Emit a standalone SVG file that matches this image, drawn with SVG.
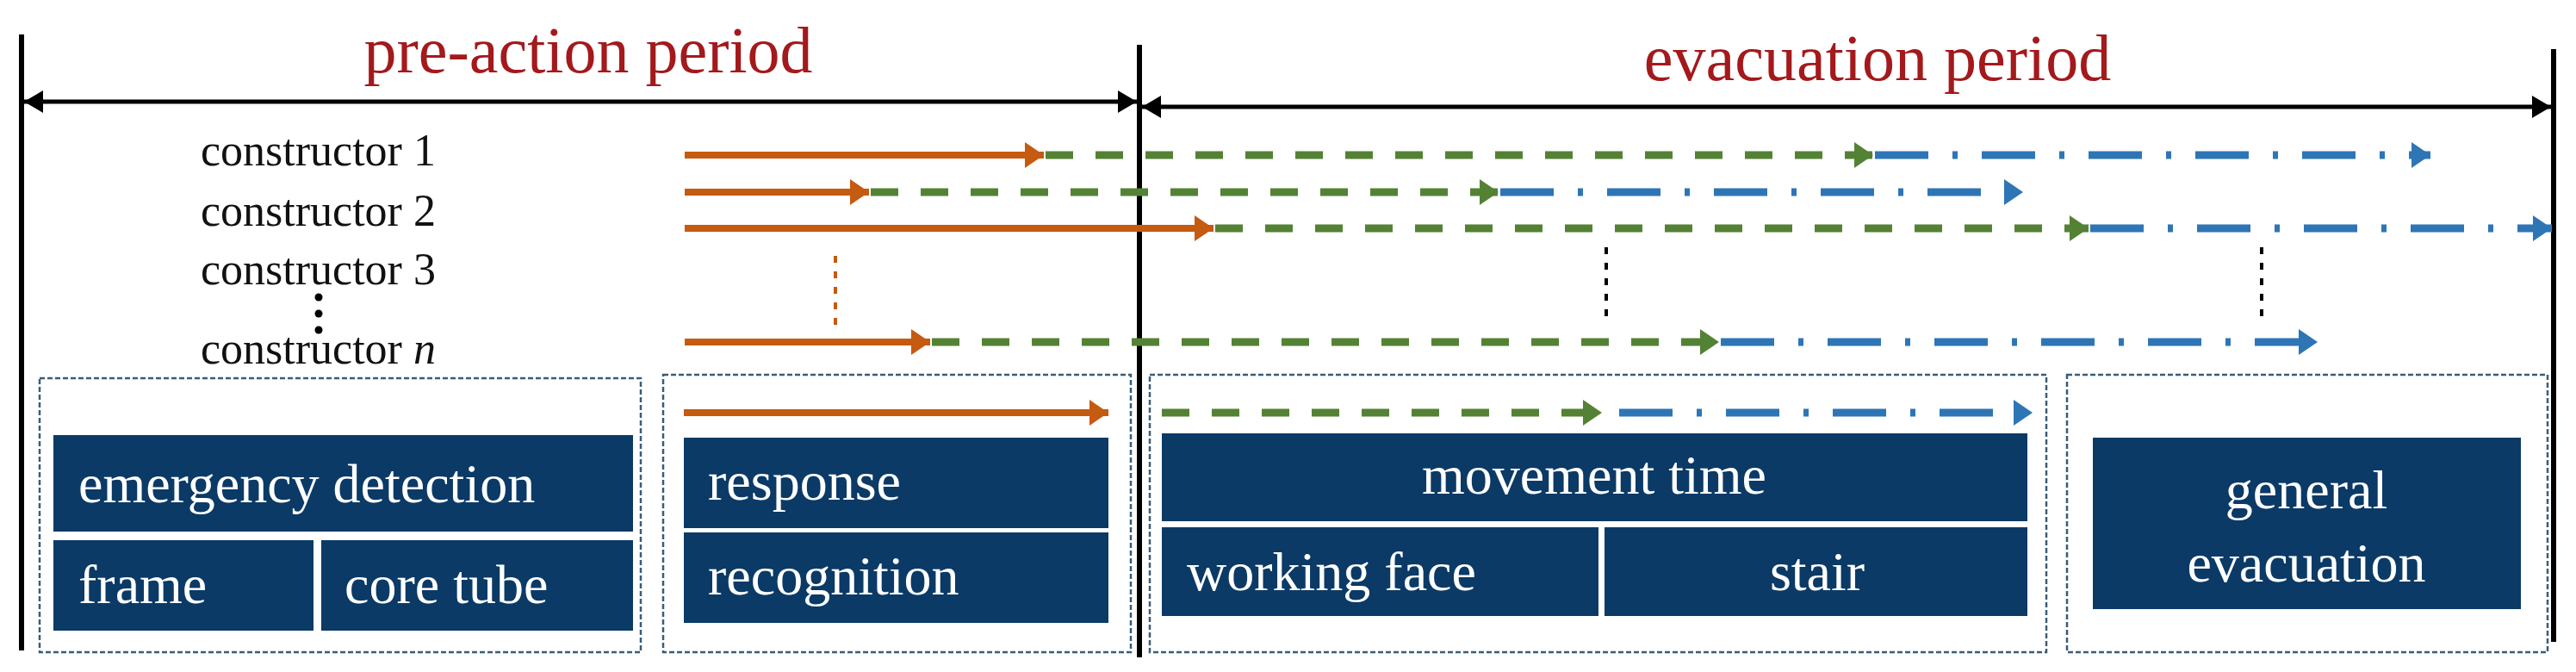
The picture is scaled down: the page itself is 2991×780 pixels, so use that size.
<svg xmlns="http://www.w3.org/2000/svg" width="2991" height="780" viewBox="0 0 2991 780">
<style>
.ttl{font-family:"Liberation Serif",serif;font-size:76px;fill:#A3191C}
.lbl{font-family:"Liberation Serif",serif;font-size:52px;fill:#111}
.wt{font-family:"Liberation Serif",serif;font-size:64px;fill:#fff}
.bx{fill:#0B3A66}
.grp{fill:none;stroke:#3A5D78;stroke-width:2.5;stroke-dasharray:6 3}
.or{stroke:#C55A11;stroke-width:8;fill:none}
.gr{stroke:#548235;stroke-width:9;fill:none;stroke-dasharray:32 26}
.bl{stroke:#2E75B6;stroke-width:9;fill:none;stroke-dasharray:62 28 6 28}
.vk{stroke:#000;stroke-width:6}
.dot{stroke-width:4;stroke-dasharray:8 10;fill:none}
</style>
<defs>
<marker id="ao" markerUnits="userSpaceOnUse" markerWidth="24" markerHeight="30" refX="22" refY="15" orient="auto"><path d="M0,0 L22,15 L0,30 Z" fill="#C55A11"/></marker>
<marker id="ag" markerUnits="userSpaceOnUse" markerWidth="24" markerHeight="30" refX="22" refY="15" orient="auto"><path d="M0,0 L22,15 L0,30 Z" fill="#548235"/></marker>
<marker id="ab" markerUnits="userSpaceOnUse" markerWidth="24" markerHeight="30" refX="22" refY="15" orient="auto"><path d="M0,0 L22,15 L0,30 Z" fill="#2E75B6"/></marker>
<marker id="ak" markerUnits="userSpaceOnUse" markerWidth="24" markerHeight="26" refX="22" refY="13" orient="auto-start-reverse"><path d="M0,0 L22,13 L0,26 Z" fill="#000"/></marker>
</defs>
<rect width="2991" height="780" fill="#fff"/>
<g id="frame">
<line class="vk" x1="25" y1="40" x2="25" y2="755"/>
<line class="vk" x1="1323" y1="52" x2="1323" y2="763"/>
<line class="vk" x1="2965" y1="57" x2="2965" y2="745"/>
<text class="ttl" x="683" y="84" text-anchor="middle">pre-action period</text>
<text class="ttl" x="2180" y="93" text-anchor="middle">evacuation period</text>
</g>
<g id="labels">
<text class="lbl" x="233" y="192">constructor 1</text>
<text class="lbl" x="233" y="262">constructor 2</text>
<text class="lbl" x="233" y="330">constructor 3</text>
<text class="lbl" x="233" y="422">constructor <tspan font-style="italic">n</tspan></text>
<circle cx="370" cy="345" r="4.5"/><circle cx="370" cy="364" r="4.5"/><circle cx="370" cy="383" r="4.5"/>
</g>
<g id="connectors">
<line x1="28" y1="118" x2="1320" y2="118" stroke="#000" stroke-width="5" marker-start="url(#ak)" marker-end="url(#ak)"/>
<line x1="1326" y1="124" x2="2962" y2="124" stroke="#000" stroke-width="5" marker-start="url(#ak)" marker-end="url(#ak)"/>
<line class="or" x1="795" y1="180" x2="1212" y2="180" marker-end="url(#ao)"/>
<line class="gr" x1="1214" y1="180" x2="2175" y2="180" marker-end="url(#ag)"/>
<line class="bl" x1="2177" y1="180" x2="2822" y2="180" marker-end="url(#ab)"/>
<line class="or" x1="795" y1="223" x2="1009" y2="223" marker-end="url(#ao)"/>
<line class="gr" x1="1011" y1="223" x2="1740" y2="223" marker-end="url(#ag)"/>
<line class="bl" x1="1742" y1="223" x2="2349" y2="223" marker-end="url(#ab)"/>
<line class="or" x1="795" y1="265" x2="1409" y2="265" marker-end="url(#ao)"/>
<line class="gr" x1="1411" y1="265" x2="2425" y2="265" marker-end="url(#ag)"/>
<line class="bl" x1="2427" y1="265" x2="2963" y2="265" marker-end="url(#ab)"/>
<line class="or" x1="795" y1="397" x2="1080" y2="397" marker-end="url(#ao)"/>
<line class="gr" x1="1082" y1="397" x2="1996" y2="397" marker-end="url(#ag)"/>
<line class="bl" x1="1998" y1="397" x2="2691" y2="397" marker-end="url(#ab)"/>
<line class="dot" x1="970" y1="297" x2="970" y2="380" stroke="#C55A11"/>
<line class="dot" x1="1865" y1="287" x2="1865" y2="370" stroke="#000"/>
<line class="dot" x1="2626" y1="287" x2="2626" y2="370" stroke="#000"/>
<line class="or" x1="794" y1="479" x2="1287" y2="479" marker-end="url(#ao)"/>
<line class="gr" x1="1349" y1="479" x2="1860" y2="479" marker-end="url(#ag)"/>
<line class="bl" x1="1880" y1="479" x2="2360" y2="479" marker-end="url(#ab)"/>
</g>
<g id="detection">
<rect class="grp" x="46" y="439" width="698" height="318"/>
<rect class="bx" x="62" y="505" width="673" height="112"/>
<rect class="bx" x="62" y="627" width="302" height="105"/>
<rect class="bx" x="373" y="627" width="362" height="105"/>
<text class="wt" x="91" y="583">emergency detection</text>
<text class="wt" x="91" y="700">frame</text>
<text class="wt" x="400" y="700">core tube</text>
</g>
<g id="response">
<rect class="grp" x="770" y="435" width="543" height="322"/>
<rect class="bx" x="794" y="508" width="493" height="105"/>
<rect class="bx" x="794" y="618" width="493" height="105"/>
<text class="wt" x="822" y="580" font-size="58">response</text>
<text class="wt" x="822" y="690" font-size="58">recognition</text>
</g>
<g id="movement">
<rect class="grp" x="1335" y="435" width="1041" height="322"/>
<rect class="bx" x="1349" y="503" width="1005" height="102"/>
<rect class="bx" x="1349" y="612" width="507" height="103"/>
<rect class="bx" x="1863" y="612" width="491" height="103"/>
<text class="wt" x="1851" y="573" text-anchor="middle">movement time</text>
<text class="wt" x="1378" y="685">working face</text>
<text class="wt" x="2110" y="685" text-anchor="middle">stair</text>
</g>
<g id="general">
<rect class="grp" x="2400" y="435" width="558" height="322"/>
<rect class="bx" x="2430" y="508" width="497" height="199"/>
<text class="wt" x="2678" y="590" text-anchor="middle">general</text>
<text class="wt" x="2678" y="675" text-anchor="middle">evacuation</text>
</g>
</svg>
